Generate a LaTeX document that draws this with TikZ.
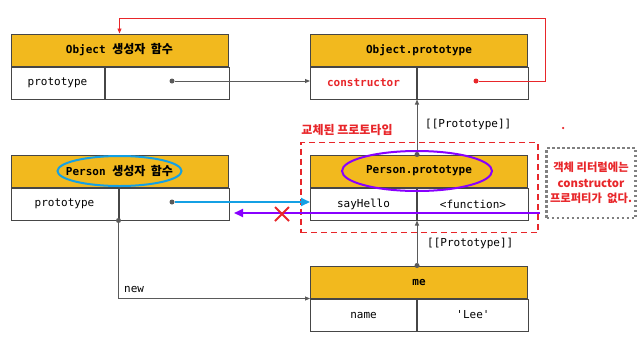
\documentclass[tikz,border=0pt]{standalone}
\usepackage{fontspec}
\setmonofont{DejaVu Sans Mono}
\newfontfamily\kr{Noto Sans CJK KR}
\usepackage{xcolor}
\usetikzlibrary{arrows.meta, positioning, fit}

\definecolor{hdrgold}{RGB}{242,185,30}
\definecolor{boxline}{RGB}{70,70,70}
\definecolor{linkgray}{RGB}{90,90,90}
\definecolor{linkred}{RGB}{232,38,42}
\definecolor{linkblue}{RGB}{20,160,228}
\definecolor{linkpurple}{RGB}{136,0,255}

\tikzset{
    hdr/.style={draw=boxline, line width=1pt, fill=hdrgold, minimum width=217pt, minimum height=32pt, inner sep=0pt, font=\fontsize{11}{13}\selectfont\ttfamily\bfseries},
    cell/.style={draw=boxline, line width=1pt, fill=white, minimum height=32pt, inner sep=0pt, font=\fontsize{11}{13}\selectfont\ttfamily},
    lbl/.style={anchor=west, inner sep=0pt, font=\fontsize{11}{13}\selectfont\ttfamily},
    ptr/.style={linkgray, line width=0.9pt, -{Triangle[length=5pt, width=4pt]}},
    dot/.style={circle, fill=linkgray, inner sep=0pt, minimum size=5pt},
    bigptr/.style={line width=2pt, -{Triangle[length=9pt, width=8pt]}}
}

\begin{document}
\begin{tikzpicture}[x=1pt, y=-1pt]

    \useasboundingbox (0,0) rectangle (644,338);

    % Object constructor
    \node[hdr] (objhead) at (119.5,50) {Object {\kr\fontsize{12}{13}\selectfont 생성자 \ 함수}};
    \node[cell, minimum width=93pt, below right=0pt of objhead.south west] (objkey) {prototype};
    \node[cell, minimum width=124pt, right=0pt of objkey] (objval) {};

    % Object.prototype
    \node[hdr] (ophead) at (419,50) {Object.prototype};
    \node[cell, minimum width=106pt, below right=0pt of ophead.south west, text=linkred, font=\fontsize{11}{13}\selectfont\ttfamily\bfseries] (opkey) {constructor};
    \node[cell, minimum width=111pt, right=0pt of opkey] (opval) {};

    % Person constructor
    \node[hdr] (pshead) at (119.5,171) {Person {\kr\fontsize{12}{13}\selectfont 생성자 \ 함수}};
    \node[cell, minimum width=107pt, below right=0pt of pshead.south west] (pskey) {prototype};
    \node[cell, minimum width=110pt, right=0pt of pskey] (psval) {};

    % Person.prototype (replaced)
    \node[hdr] (pphead) at (419,171) {Person.prototype};
    \node[cell, minimum width=106pt, below right=0pt of pphead.south west] (ppkey) {sayHello};
    \node[cell, minimum width=111pt, right=0pt of ppkey] (ppval) {<function>};

    % me instance
    \node[hdr] (mehead) at (419,282) {me};
    \node[cell, minimum width=106pt, below right=0pt of mehead.south west] (mekey) {name};
    \node[cell, minimum width=111pt, right=0pt of mekey] (meval) {'Lee'};

    % prototype / constructor links
    \node[dot] (objdot) at (172,81) {};
    \draw[ptr] (objdot) -- (objdot -| opkey.west);
    \node[dot, fill=linkred] (opdot) at (476,81) {};
    \draw[linkred, line width=0.9pt, -{Triangle[length=5pt, width=4pt]}] (opdot) -| (545,18) -| (objhead.north);

    % [[Prototype]] links
    \node[dot] (ppdot) at (ppkey.north east |- pphead.north) {};
    \draw[ptr] (ppdot) -- (opkey.south east);
    \node[lbl] (protolabeltop) at (425,124) {[[Prototype]]};
    \node[dot] (medot) at (mekey.north east |- mehead.north) {};
    \draw[ptr] (medot) -- (ppkey.south east);
    \node[lbl] (protolabelbottom) at (427,243) {[[Prototype]]};

    % new
    \node[dot] (newdot) at (pskey.south east) {};
    \draw[ptr] (newdot) |- (mekey.north west);
    \node[lbl] (newlabel) at (124,289) {new};

    % replaced prototype frame
    \node[draw=linkred, line width=1.2pt, dash pattern=on 6pt off 4pt, fit=(pphead)(ppkey)(ppval), inner xsep=9pt, inner ysep=12pt] (replacedbox) {};
    \node[text=linkred, font=\kr\bfseries\fontsize{12}{14}\selectfont] (replacedlabel) at (347,130) {교체된 프로토타입};

    % highlights
    \draw[linkblue, line width=2pt] (pshead.center) ellipse (62pt and 15pt);
    \draw[linkpurple, line width=2pt] (417,171) ellipse (75pt and 20pt);

    \node[dot] (psdot) at (172,202) {};
    \draw[linkblue, bigptr] (psdot) -- (psdot -| ppkey.west);

    \coordinate (purplestart) at (540,213);
    \coordinate (purpleend) at (234,213);
    \draw[linkpurple, bigptr] (purplestart) -- (purpleend);
    \draw[linkred, line width=2pt] (275,207) -- (289,221) (275,221) -- (289,207);

    % note
    \node[draw=gray, line width=2.5pt, dash pattern=on 2.5pt off 2.5pt, minimum width=89pt, minimum height=70pt, inner sep=1pt, align=center, text=linkred, font=\kr\bfseries\fontsize{11.3}{15.5}\selectfont] (notebox) at (591,183) {객체 리터럴에는\\constructor\\프로퍼티가 \ 없다.};
    \node[circle, fill=linkred, inner sep=0pt, minimum size=2.5pt] (straydot) at (563,128) {};

\end{tikzpicture}
\end{document}
